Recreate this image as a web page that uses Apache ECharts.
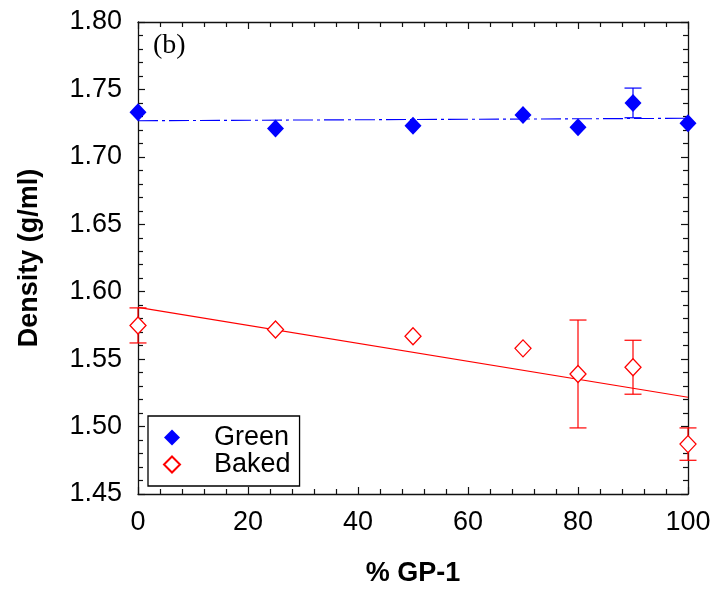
<!DOCTYPE html>
<html>
<head>
<meta charset="utf-8">
<script src="https://cdn.jsdelivr.net/npm/echarts@6/dist/echarts.min.js"></script>
<style>
  html, body { margin: 0; padding: 0; background: #fff; }
  #chart { width: 715px; height: 589px; }
</style>
</head>
<body>
<div id="chart"></div>
<script>
// % GP-1 content of each sample
var gpPercent = [0, 25, 50, 70, 80, 90, 100];

// Measured densities (g/ml) and their error bars (+/-)
var greenDensity = [1.733, 1.721, 1.723, 1.731, 1.722, 1.740, 1.725];
var greenError   = [0, 0, 0, 0, 0, 0.011, 0];
var bakedDensity = [1.575, 1.572, 1.567, 1.558, 1.539, 1.544, 1.487];
var bakedError   = [0.013, 0, 0, 0, 0.040, 0.020, 0.012];

// Axis tick values
var xTicks = [0, 20, 40, 60, 80, 100];
var yTicks = [1.45, 1.50, 1.55, 1.60, 1.65, 1.70, 1.75, 1.80];

var FONT = 'Liberation Sans, Arial, sans-serif';
var BLUE = '#0000ff';
var RED = '#ff0000';

// Ordinary least-squares line through a set of points, returned as its two end points
function linearFit(xs, ys, x0, x1) {
  var n = xs.length, mx = 0, my = 0;
  for (var i = 0; i < n; i++) { mx += xs[i]; my += ys[i]; }
  mx /= n; my /= n;
  var sxy = 0, sxx = 0;
  for (var j = 0; j < n; j++) {
    sxy += (xs[j] - mx) * (ys[j] - my);
    sxx += (xs[j] - mx) * (xs[j] - mx);
  }
  var b = sxy / sxx, a = my - b * mx;
  return [[x0, a + b * x0], [x1, a + b * x1]];
}

function zip(xs, ys) {
  return xs.map(function (x, i) { return [x, ys[i]]; });
}

function errorRows(xs, ys, es) {
  var rows = [];
  for (var i = 0; i < xs.length; i++) {
    if (es[i] > 0) rows.push([xs[i], ys[i] - es[i], ys[i] + es[i]]);
  }
  return rows;
}

// Vertical error bar with horizontal caps
function errorBarRenderer(color) {
  return function (params, api) {
    var x = api.value(0);
    var lo = api.coord([x, api.value(1)]);
    var hi = api.coord([x, api.value(2)]);
    var cap = 8.5;
    var style = { stroke: color, lineWidth: 1.2 };
    return {
      type: 'group',
      children: [
        { type: 'line', shape: { x1: lo[0], y1: lo[1], x2: hi[0], y2: hi[1] }, style: style },
        { type: 'line', shape: { x1: lo[0] - cap, y1: lo[1], x2: lo[0] + cap, y2: lo[1] }, style: style },
        { type: 'line', shape: { x1: hi[0] - cap, y1: hi[1], x2: hi[0] + cap, y2: hi[1] }, style: style }
      ]
    };
  };
}

var xMin = xTicks[0], xMax = xTicks[xTicks.length - 1];
var yMin = yTicks[0], yMax = yTicks[yTicks.length - 1];
var xStep = xTicks[1] - xTicks[0];
var yStep = +(yTicks[1] - yTicks[0]).toFixed(2);

var axisLine = { show: true, onZero: false, lineStyle: { color: '#111', width: 1.3 } };
var tickIn = { show: true, inside: true, length: 7, lineStyle: { color: '#111', width: 1.2 } };
var minorIn = { show: true, splitNumber: 5, length: 5, lineStyle: { color: '#111', width: 1.2 } };

var chart = echarts.init(document.getElementById('chart'), null, { renderer: 'canvas' });

chart.setOption({
  animation: false,
  backgroundColor: '#fff',
  title: {
    text: '(b)',
    left: 148,
    top: 27,
    textStyle: { fontFamily: 'Liberation Serif, Times New Roman, serif', fontSize: 28, fontWeight: 'normal', color: '#000' }
  },
  grid: { left: 138, right: 27, top: 22, bottom: 95, containLabel: false, outerBoundsMode: 'none' },
  legend: {
    data: ['Green', 'Baked'],
    orient: 'vertical',
    left: 148,
    top: 416,
    padding: [8, 9, 8, 15],
    itemGap: 0,
    itemWidth: 16,
    itemHeight: 16,
    borderColor: '#000',
    borderWidth: 1.3,
    backgroundColor: '#fff',
    textStyle: { fontFamily: FONT, fontSize: 27, color: '#000', lineHeight: 26, padding: [0, 0, 0, 29] }
  },
  xAxis: [
    {
      type: 'value', position: 'bottom', min: xMin, max: xMax, interval: xStep,
      name: '% GP-1', nameLocation: 'middle', nameGap: 66,
      nameTextStyle: { fontFamily: FONT, fontSize: 27, fontWeight: 'bold', color: '#000' },
      axisLine: axisLine, axisTick: tickIn, minorTick: minorIn, splitLine: { show: false },
      axisLabel: { fontFamily: FONT, fontSize: 27, color: '#000', margin: 15 }
    },
    {
      type: 'value', position: 'top', min: xMin, max: xMax, interval: xStep,
      axisLine: axisLine, axisTick: tickIn, minorTick: minorIn, splitLine: { show: false },
      axisLabel: { show: false }
    }
  ],
  yAxis: [
    {
      type: 'value', position: 'left', min: yMin, max: yMax, interval: yStep,
      name: 'Density (g/ml)', nameLocation: 'middle', nameGap: 95,
      nameTextStyle: { fontFamily: FONT, fontSize: 27, fontWeight: 'bold', color: '#000' },
      axisLine: axisLine, axisTick: tickIn, minorTick: minorIn, splitLine: { show: false },
      axisLabel: {
        fontFamily: FONT, fontSize: 27, color: '#000', margin: 16,
        formatter: function (v) { return v.toFixed(2); }
      }
    },
    {
      type: 'value', position: 'right', min: yMin, max: yMax, interval: yStep,
      axisLine: axisLine, axisTick: tickIn, minorTick: minorIn, splitLine: { show: false },
      axisLabel: { show: false }
    }
  ],
  series: [
    {
      name: 'Green fit', type: 'line', z: 1, silent: true,
      data: linearFit(gpPercent, greenDensity, xMin, xMax),
      symbol: 'none',
      lineStyle: { color: BLUE, width: 1.1, type: [20, 4, 3, 4] }
    },
    {
      name: 'Baked fit', type: 'line', z: 1, silent: true,
      data: linearFit(gpPercent, bakedDensity, xMin, xMax),
      symbol: 'none',
      lineStyle: { color: RED, width: 1.1 }
    },
    {
      name: 'Green error', type: 'custom', z: 2, silent: true,
      data: errorRows(gpPercent, greenDensity, greenError),
      renderItem: errorBarRenderer(BLUE)
    },
    {
      name: 'Baked error', type: 'custom', z: 2, silent: true,
      data: errorRows(gpPercent, bakedDensity, bakedError),
      renderItem: errorBarRenderer(RED)
    },
    {
      name: 'Green', type: 'scatter', z: 3, clip: false,
      data: zip(gpPercent, greenDensity),
      symbol: 'diamond', symbolSize: [17, 18],
      itemStyle: { color: BLUE, opacity: 1 }
    },
    {
      name: 'Baked', type: 'scatter', z: 3, clip: false,
      data: zip(gpPercent, bakedDensity),
      symbol: 'diamond', symbolSize: [16, 17],
      itemStyle: { color: '#fff', borderColor: RED, borderWidth: 1.3, opacity: 1 }
    }
  ]
});
</script>
</body>
</html>
